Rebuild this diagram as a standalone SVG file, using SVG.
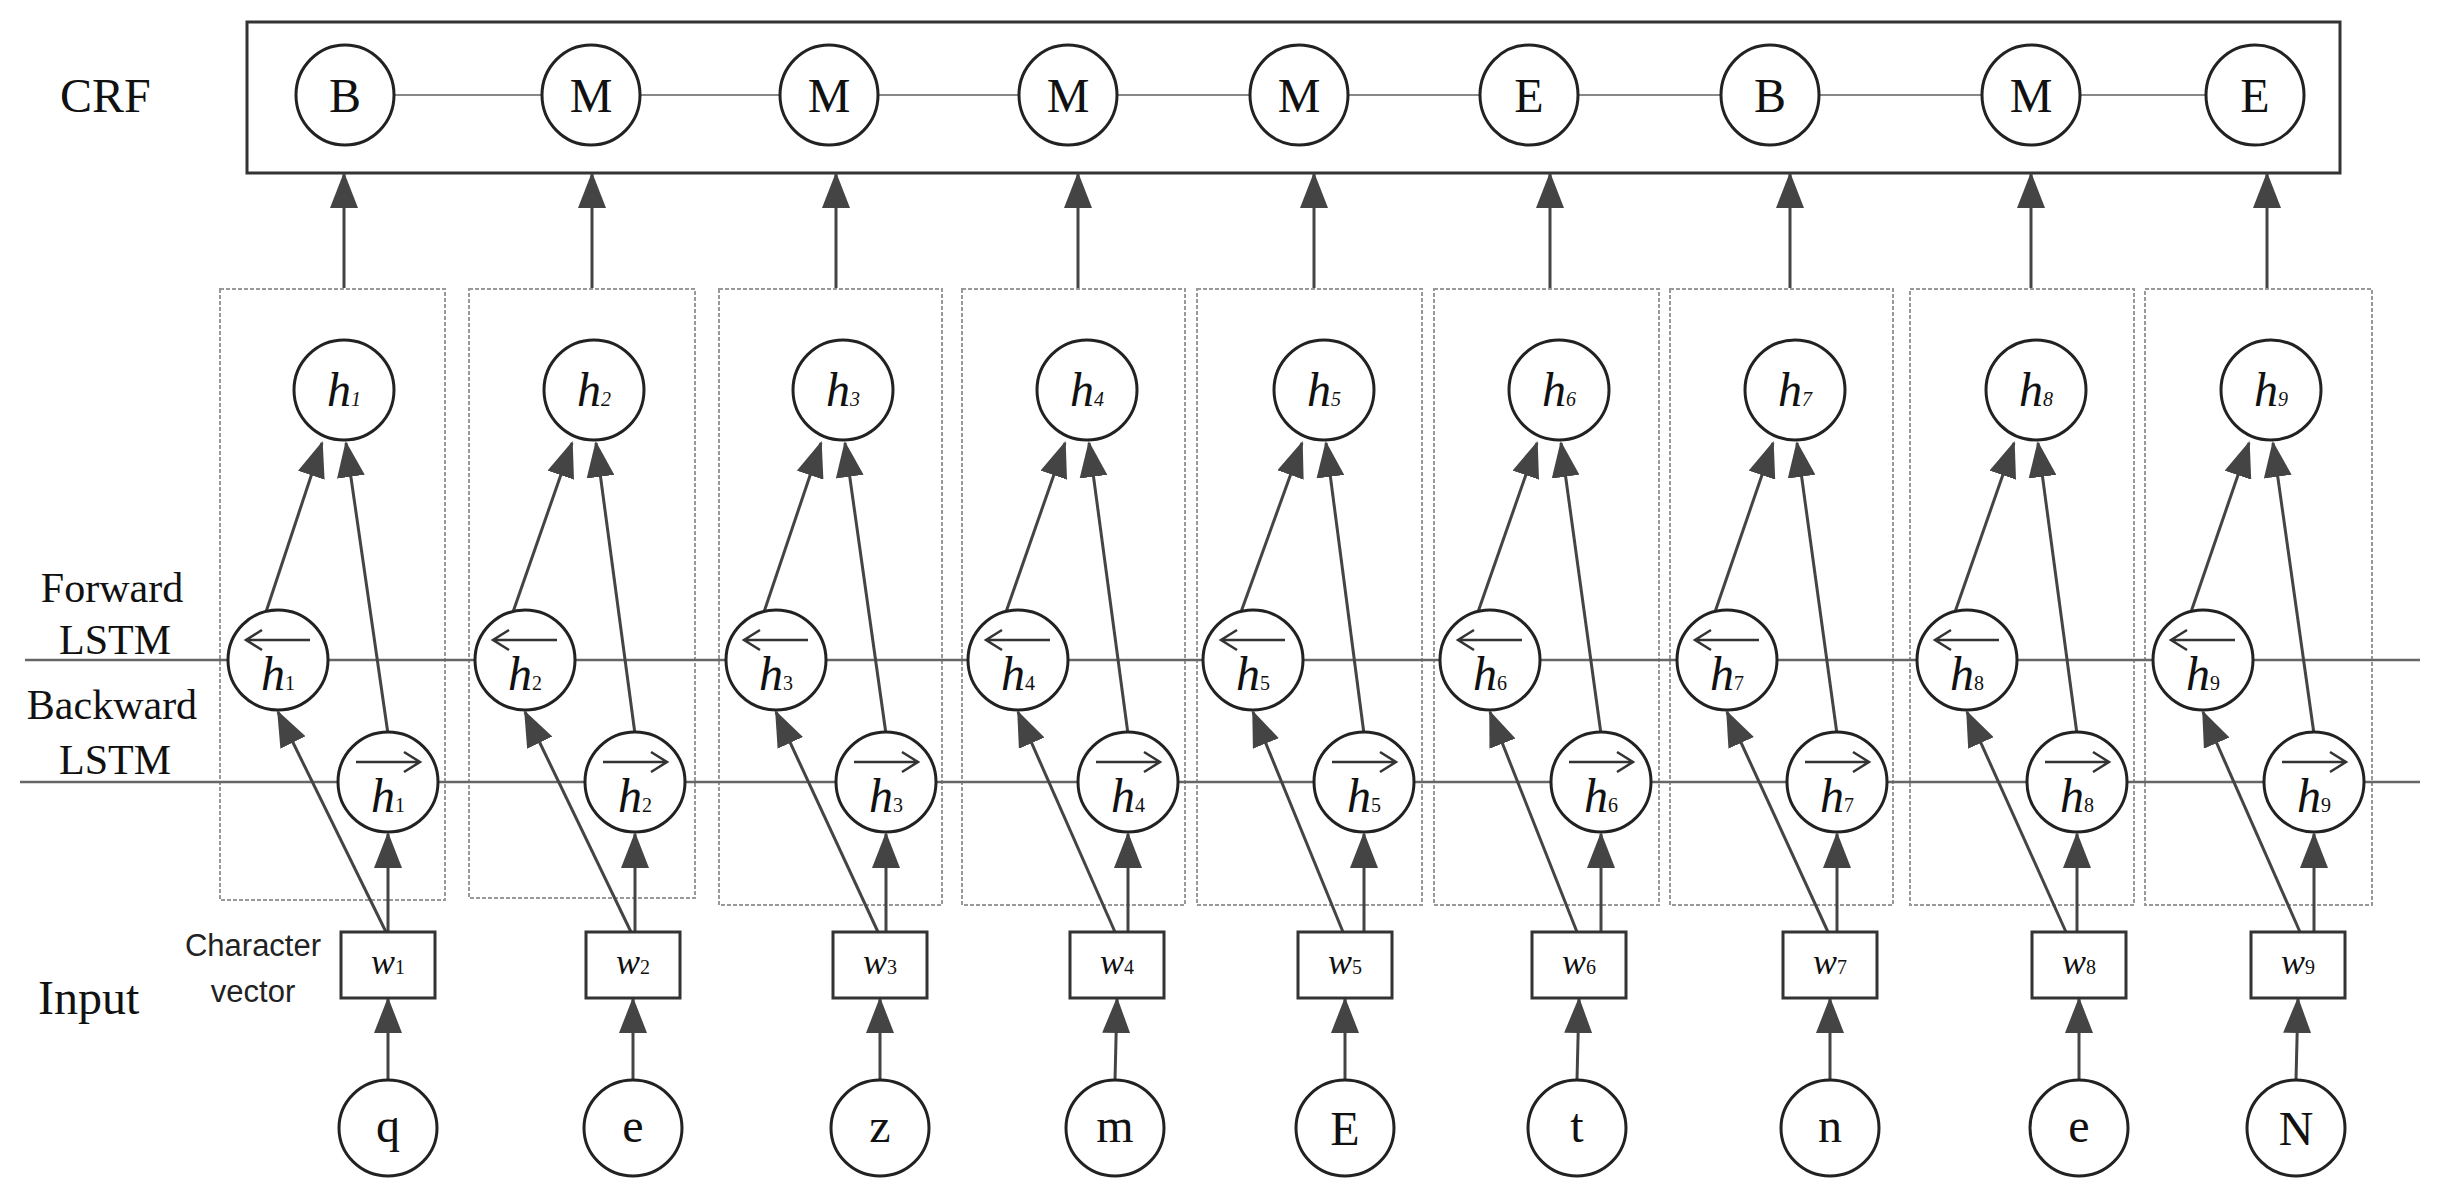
<svg xmlns="http://www.w3.org/2000/svg" width="2438" height="1200" viewBox="0 0 2438 1200">
<style>
.n{fill:#fff;stroke:#222;stroke-width:3}
.box{fill:#fff;stroke:#333;stroke-width:3}
.dash{fill:none;stroke:#999;stroke-width:2;stroke-dasharray:4 2}
.c{stroke:#444;stroke-width:3;fill:none}
.a{stroke:#444;stroke-width:3;fill:none;marker-end:url(#ah)}
.crl{stroke:#888;stroke-width:2}
.lstm{stroke:#666;stroke-width:2.5}
.t{font-family:"Liberation Serif",serif;fill:#111}
.big{font-size:48px}
.lab{font-size:42px}
.hi{font-family:"Liberation Serif",serif;font-style:italic;font-size:48px;fill:#111;text-anchor:middle}
.sub{font-size:20px}
.sm{font-family:"Liberation Sans",sans-serif;font-size:31px;fill:#222;text-anchor:middle}
.ov{stroke:#333;stroke-width:2.5;fill:none}
</style>
<defs>
<marker id="ah" markerUnits="userSpaceOnUse" markerWidth="36" markerHeight="28" refX="34" refY="14" orient="auto"><path d="M0,0 L36,14 L0,28 z" fill="#444"/></marker>
</defs>
<g id="labels">
<text class="t big" x="60" y="112">CRF</text>
<text class="t lab" x="112" y="602" text-anchor="middle">Forward</text>
<text class="t lab" x="115" y="654" text-anchor="middle">LSTM</text>
<text class="t lab" x="112" y="719" text-anchor="middle">Backward</text>
<text class="t lab" x="115" y="774" text-anchor="middle">LSTM</text>
<text class="t big" x="38" y="1014">Input</text>
<text class="sm" x="253" y="956">Character</text>
<text class="sm" x="253" y="1002">vector</text>
</g>
<g id="boxes">
<rect class="dash" x="220" y="289" width="225" height="611"/>
<rect class="dash" x="469" y="289" width="226" height="609"/>
<rect class="dash" x="719" y="289" width="223" height="616"/>
<rect class="dash" x="962" y="289" width="223" height="616"/>
<rect class="dash" x="1197" y="289" width="225" height="616"/>
<rect class="dash" x="1434" y="289" width="225" height="616"/>
<rect class="dash" x="1670" y="289" width="223" height="616"/>
<rect class="dash" x="1910" y="289" width="224" height="616"/>
<rect class="dash" x="2145" y="289" width="227" height="616"/>
<rect class="box" x="247" y="22" width="2093" height="151"/>
</g>
<g id="connectors">
<line class="lstm" x1="25" y1="660" x2="2420" y2="660"/>
<line class="lstm" x1="20" y1="782" x2="2420" y2="782"/>
<line class="crl" x1="345" y1="95" x2="2255" y2="95"/>
<line class="a" x1="344" y1="288" x2="344" y2="174"/><line class="a" x1="592" y1="288" x2="592" y2="174"/><line class="a" x1="836" y1="288" x2="836" y2="174"/><line class="a" x1="1078" y1="288" x2="1078" y2="174"/><line class="a" x1="1314" y1="288" x2="1314" y2="174"/><line class="a" x1="1550" y1="288" x2="1550" y2="174"/><line class="a" x1="1790" y1="288" x2="1790" y2="174"/><line class="a" x1="2031" y1="288" x2="2031" y2="174"/><line class="a" x1="2267" y1="288" x2="2267" y2="174"/>
<line class="a" x1="266" y1="612" x2="322" y2="443"/><line class="a" x1="388" y1="734" x2="346" y2="443"/><line class="a" x1="386" y1="932" x2="278" y2="712"/><line class="a" x1="388" y1="932" x2="388" y2="834"/><line class="a" x1="388" y1="1080" x2="388" y2="999"/>
<line class="a" x1="513" y1="612" x2="572" y2="443"/><line class="a" x1="635" y1="734" x2="596" y2="443"/><line class="a" x1="631" y1="932" x2="525" y2="712"/><line class="a" x1="635" y1="932" x2="635" y2="834"/><line class="a" x1="633" y1="1080" x2="633" y2="999"/>
<line class="a" x1="764" y1="612" x2="821" y2="443"/><line class="a" x1="886" y1="734" x2="845" y2="443"/><line class="a" x1="878" y1="932" x2="776" y2="712"/><line class="a" x1="886" y1="932" x2="886" y2="834"/><line class="a" x1="880" y1="1080" x2="880" y2="999"/>
<line class="a" x1="1006" y1="612" x2="1065" y2="443"/><line class="a" x1="1128" y1="734" x2="1089" y2="443"/><line class="a" x1="1115" y1="932" x2="1018" y2="712"/><line class="a" x1="1128" y1="932" x2="1128" y2="834"/><line class="a" x1="1115" y1="1080" x2="1117" y2="999"/>
<line class="a" x1="1241" y1="612" x2="1302" y2="443"/><line class="a" x1="1364" y1="734" x2="1326" y2="443"/><line class="a" x1="1343" y1="932" x2="1253" y2="712"/><line class="a" x1="1364" y1="932" x2="1364" y2="834"/><line class="a" x1="1345" y1="1080" x2="1345" y2="999"/>
<line class="a" x1="1478" y1="612" x2="1537" y2="443"/><line class="a" x1="1601" y1="734" x2="1561" y2="443"/><line class="a" x1="1577" y1="932" x2="1490" y2="712"/><line class="a" x1="1601" y1="932" x2="1601" y2="834"/><line class="a" x1="1577" y1="1080" x2="1579" y2="999"/>
<line class="a" x1="1715" y1="612" x2="1773" y2="443"/><line class="a" x1="1837" y1="734" x2="1797" y2="443"/><line class="a" x1="1828" y1="932" x2="1727" y2="712"/><line class="a" x1="1837" y1="932" x2="1837" y2="834"/><line class="a" x1="1830" y1="1080" x2="1830" y2="999"/>
<line class="a" x1="1955" y1="612" x2="2014" y2="443"/><line class="a" x1="2077" y1="734" x2="2038" y2="443"/><line class="a" x1="2066" y1="932" x2="1967" y2="712"/><line class="a" x1="2077" y1="932" x2="2077" y2="834"/><line class="a" x1="2079" y1="1080" x2="2079" y2="999"/>
<line class="a" x1="2191" y1="612" x2="2249" y2="443"/><line class="a" x1="2314" y1="734" x2="2273" y2="443"/><line class="a" x1="2300" y1="932" x2="2203" y2="712"/><line class="a" x1="2314" y1="932" x2="2314" y2="834"/><line class="a" x1="2296" y1="1080" x2="2298" y2="999"/>
</g>
<g id="crf">
<ellipse class="n" cx="345" cy="95" rx="49" ry="50"/><text class="t big" x="345" y="112" text-anchor="middle">B</text>
<ellipse class="n" cx="591" cy="95" rx="49" ry="50"/><text class="t big" x="591" y="112" text-anchor="middle">M</text>
<ellipse class="n" cx="829" cy="95" rx="49" ry="50"/><text class="t big" x="829" y="112" text-anchor="middle">M</text>
<ellipse class="n" cx="1068" cy="95" rx="49" ry="50"/><text class="t big" x="1068" y="112" text-anchor="middle">M</text>
<ellipse class="n" cx="1299" cy="95" rx="49" ry="50"/><text class="t big" x="1299" y="112" text-anchor="middle">M</text>
<ellipse class="n" cx="1529" cy="95" rx="49" ry="50"/><text class="t big" x="1529" y="112" text-anchor="middle">E</text>
<ellipse class="n" cx="1770" cy="95" rx="49" ry="50"/><text class="t big" x="1770" y="112" text-anchor="middle">B</text>
<ellipse class="n" cx="2031" cy="95" rx="49" ry="50"/><text class="t big" x="2031" y="112" text-anchor="middle">M</text>
<ellipse class="n" cx="2255" cy="95" rx="49" ry="50"/><text class="t big" x="2255" y="112" text-anchor="middle">E</text>
</g>
<g id="hidden">
<circle class="n" cx="344" cy="390" r="50"/><text class="hi" x="344" y="406">h<tspan class="sub">1</tspan></text>
<circle class="n" cx="594" cy="390" r="50"/><text class="hi" x="594" y="406">h<tspan class="sub">2</tspan></text>
<circle class="n" cx="843" cy="390" r="50"/><text class="hi" x="843" y="406">h<tspan class="sub">3</tspan></text>
<circle class="n" cx="1087" cy="390" r="50"/><text class="hi" x="1087" y="406">h<tspan class="sub">4</tspan></text>
<circle class="n" cx="1324" cy="390" r="50"/><text class="hi" x="1324" y="406">h<tspan class="sub">5</tspan></text>
<circle class="n" cx="1559" cy="390" r="50"/><text class="hi" x="1559" y="406">h<tspan class="sub">6</tspan></text>
<circle class="n" cx="1795" cy="390" r="50"/><text class="hi" x="1795" y="406">h<tspan class="sub">7</tspan></text>
<circle class="n" cx="2036" cy="390" r="50"/><text class="hi" x="2036" y="406">h<tspan class="sub">8</tspan></text>
<circle class="n" cx="2271" cy="390" r="50"/><text class="hi" x="2271" y="406">h<tspan class="sub">9</tspan></text>
</g>
<g id="backward">
<circle class="n" cx="278" cy="660" r="50"/><path class="ov" d="M248,640 H310 M262,630 L246,640 L262,650"/><text class="hi" x="278" y="690">h<tspan class="sub" font-style="normal">1</tspan></text>
<circle class="n" cx="525" cy="660" r="50"/><path class="ov" d="M495,640 H557 M509,630 L493,640 L509,650"/><text class="hi" x="525" y="690">h<tspan class="sub" font-style="normal">2</tspan></text>
<circle class="n" cx="776" cy="660" r="50"/><path class="ov" d="M746,640 H808 M760,630 L744,640 L760,650"/><text class="hi" x="776" y="690">h<tspan class="sub" font-style="normal">3</tspan></text>
<circle class="n" cx="1018" cy="660" r="50"/><path class="ov" d="M988,640 H1050 M1002,630 L986,640 L1002,650"/><text class="hi" x="1018" y="690">h<tspan class="sub" font-style="normal">4</tspan></text>
<circle class="n" cx="1253" cy="660" r="50"/><path class="ov" d="M1223,640 H1285 M1237,630 L1221,640 L1237,650"/><text class="hi" x="1253" y="690">h<tspan class="sub" font-style="normal">5</tspan></text>
<circle class="n" cx="1490" cy="660" r="50"/><path class="ov" d="M1460,640 H1522 M1474,630 L1458,640 L1474,650"/><text class="hi" x="1490" y="690">h<tspan class="sub" font-style="normal">6</tspan></text>
<circle class="n" cx="1727" cy="660" r="50"/><path class="ov" d="M1697,640 H1759 M1711,630 L1695,640 L1711,650"/><text class="hi" x="1727" y="690">h<tspan class="sub" font-style="normal">7</tspan></text>
<circle class="n" cx="1967" cy="660" r="50"/><path class="ov" d="M1937,640 H1999 M1951,630 L1935,640 L1951,650"/><text class="hi" x="1967" y="690">h<tspan class="sub" font-style="normal">8</tspan></text>
<circle class="n" cx="2203" cy="660" r="50"/><path class="ov" d="M2173,640 H2235 M2187,630 L2171,640 L2187,650"/><text class="hi" x="2203" y="690">h<tspan class="sub" font-style="normal">9</tspan></text>
</g>
<g id="forward">
<circle class="n" cx="388" cy="782" r="50"/><path class="ov" d="M356,762 H418 M404,752 L420,762 L404,772"/><text class="hi" x="388" y="812">h<tspan class="sub" font-style="normal">1</tspan></text>
<circle class="n" cx="635" cy="782" r="50"/><path class="ov" d="M603,762 H665 M651,752 L667,762 L651,772"/><text class="hi" x="635" y="812">h<tspan class="sub" font-style="normal">2</tspan></text>
<circle class="n" cx="886" cy="782" r="50"/><path class="ov" d="M854,762 H916 M902,752 L918,762 L902,772"/><text class="hi" x="886" y="812">h<tspan class="sub" font-style="normal">3</tspan></text>
<circle class="n" cx="1128" cy="782" r="50"/><path class="ov" d="M1096,762 H1158 M1144,752 L1160,762 L1144,772"/><text class="hi" x="1128" y="812">h<tspan class="sub" font-style="normal">4</tspan></text>
<circle class="n" cx="1364" cy="782" r="50"/><path class="ov" d="M1332,762 H1394 M1380,752 L1396,762 L1380,772"/><text class="hi" x="1364" y="812">h<tspan class="sub" font-style="normal">5</tspan></text>
<circle class="n" cx="1601" cy="782" r="50"/><path class="ov" d="M1569,762 H1631 M1617,752 L1633,762 L1617,772"/><text class="hi" x="1601" y="812">h<tspan class="sub" font-style="normal">6</tspan></text>
<circle class="n" cx="1837" cy="782" r="50"/><path class="ov" d="M1805,762 H1867 M1853,752 L1869,762 L1853,772"/><text class="hi" x="1837" y="812">h<tspan class="sub" font-style="normal">7</tspan></text>
<circle class="n" cx="2077" cy="782" r="50"/><path class="ov" d="M2045,762 H2107 M2093,752 L2109,762 L2093,772"/><text class="hi" x="2077" y="812">h<tspan class="sub" font-style="normal">8</tspan></text>
<circle class="n" cx="2314" cy="782" r="50"/><path class="ov" d="M2282,762 H2344 M2330,752 L2346,762 L2330,772"/><text class="hi" x="2314" y="812">h<tspan class="sub" font-style="normal">9</tspan></text>
</g>
<g id="vectors">
<rect class="box" x="341" y="932" width="94" height="66"/><text class="hi" style="font-size:36px" x="388" y="974">w<tspan class="sub" font-style="normal">1</tspan></text>
<rect class="box" x="586" y="932" width="94" height="66"/><text class="hi" style="font-size:36px" x="633" y="974">w<tspan class="sub" font-style="normal">2</tspan></text>
<rect class="box" x="833" y="932" width="94" height="66"/><text class="hi" style="font-size:36px" x="880" y="974">w<tspan class="sub" font-style="normal">3</tspan></text>
<rect class="box" x="1070" y="932" width="94" height="66"/><text class="hi" style="font-size:36px" x="1117" y="974">w<tspan class="sub" font-style="normal">4</tspan></text>
<rect class="box" x="1298" y="932" width="94" height="66"/><text class="hi" style="font-size:36px" x="1345" y="974">w<tspan class="sub" font-style="normal">5</tspan></text>
<rect class="box" x="1532" y="932" width="94" height="66"/><text class="hi" style="font-size:36px" x="1579" y="974">w<tspan class="sub" font-style="normal">6</tspan></text>
<rect class="box" x="1783" y="932" width="94" height="66"/><text class="hi" style="font-size:36px" x="1830" y="974">w<tspan class="sub" font-style="normal">7</tspan></text>
<rect class="box" x="2032" y="932" width="94" height="66"/><text class="hi" style="font-size:36px" x="2079" y="974">w<tspan class="sub" font-style="normal">8</tspan></text>
<rect class="box" x="2251" y="932" width="94" height="66"/><text class="hi" style="font-size:36px" x="2298" y="974">w<tspan class="sub" font-style="normal">9</tspan></text>
</g>
<g id="inputs">
<ellipse class="n" cx="388" cy="1128" rx="49" ry="48"/><text class="t big" x="388" y="1142" text-anchor="middle">q</text>
<ellipse class="n" cx="633" cy="1128" rx="49" ry="48"/><text class="t big" x="633" y="1142" text-anchor="middle">e</text>
<ellipse class="n" cx="880" cy="1128" rx="49" ry="48"/><text class="t big" x="880" y="1142" text-anchor="middle">z</text>
<ellipse class="n" cx="1115" cy="1128" rx="49" ry="48"/><text class="t big" x="1115" y="1142" text-anchor="middle">m</text>
<ellipse class="n" cx="1345" cy="1128" rx="49" ry="48"/><text class="t big" x="1345" y="1145" text-anchor="middle">E</text>
<ellipse class="n" cx="1577" cy="1128" rx="49" ry="48"/><text class="t big" x="1577" y="1142" text-anchor="middle">t</text>
<ellipse class="n" cx="1830" cy="1128" rx="49" ry="48"/><text class="t big" x="1830" y="1142" text-anchor="middle">n</text>
<ellipse class="n" cx="2079" cy="1128" rx="49" ry="48"/><text class="t big" x="2079" y="1142" text-anchor="middle">e</text>
<ellipse class="n" cx="2296" cy="1128" rx="49" ry="48"/><text class="t big" x="2296" y="1145" text-anchor="middle">N</text>
</g>
</svg>
